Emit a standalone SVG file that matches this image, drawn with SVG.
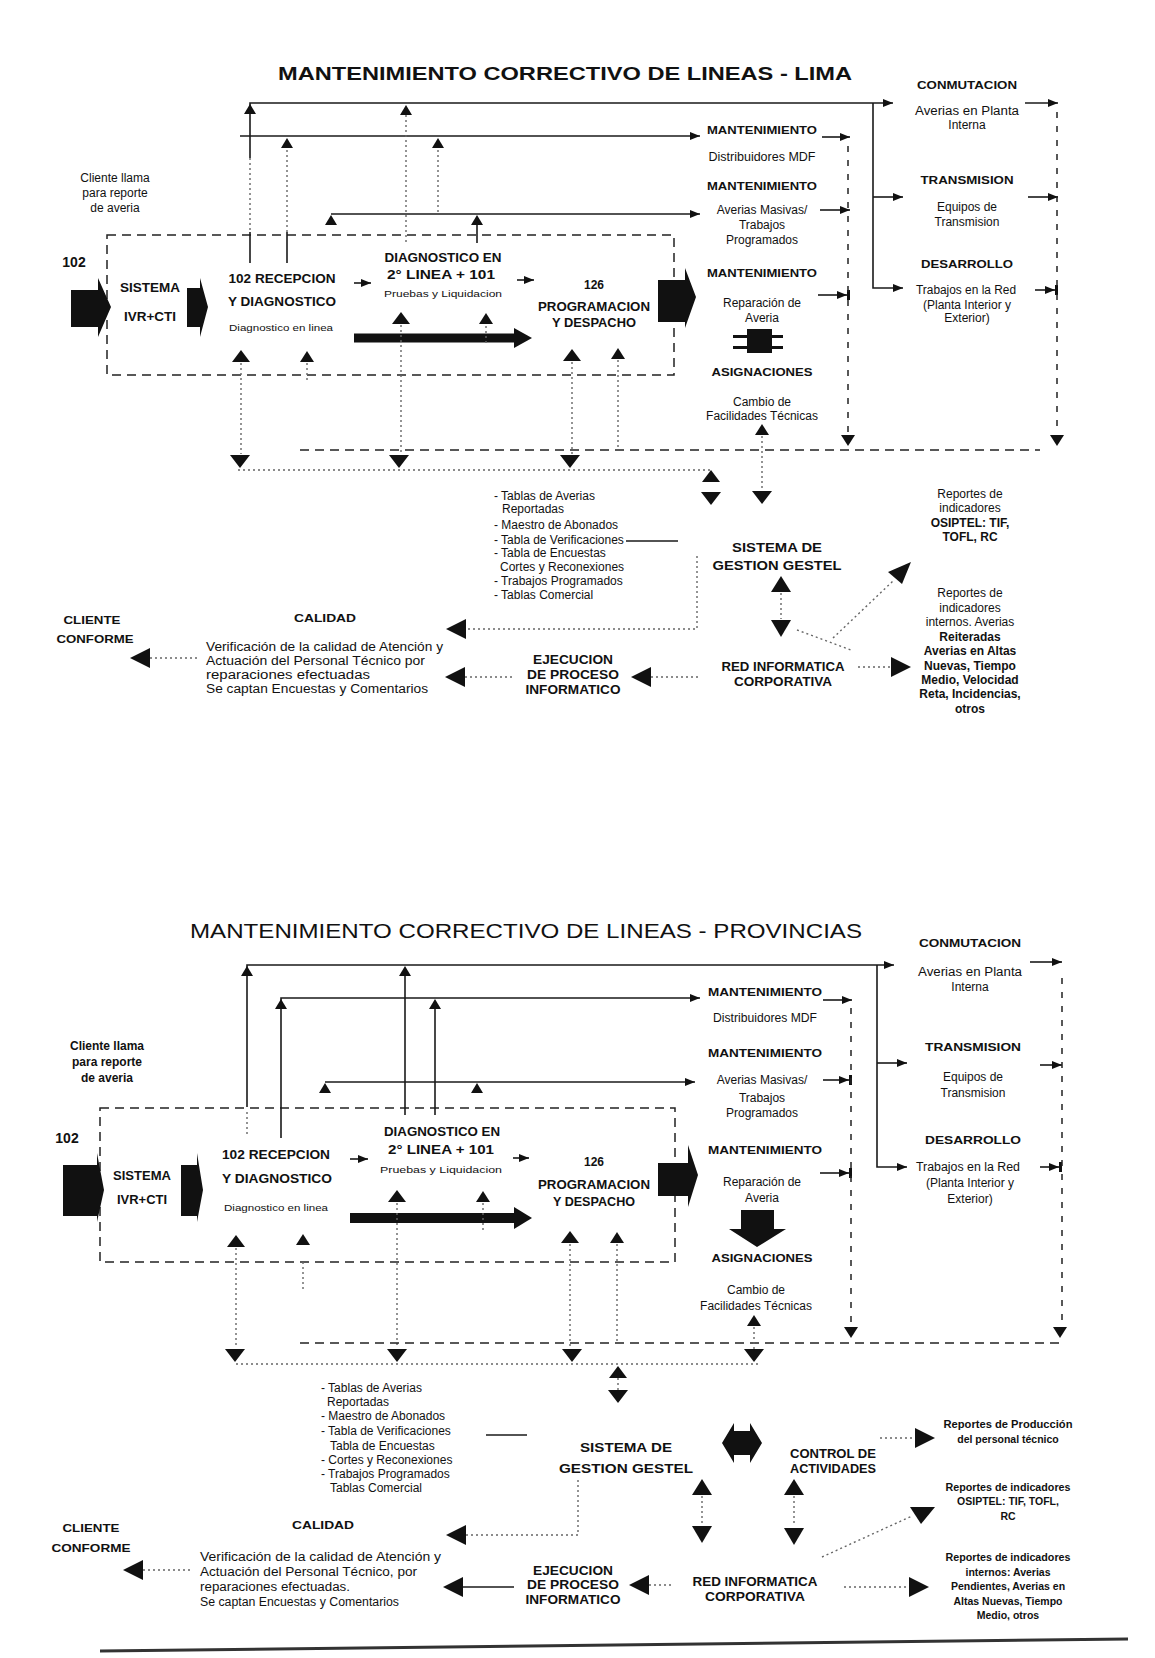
<svg xmlns="http://www.w3.org/2000/svg" width="1155" height="1658" viewBox="0 0 1155 1658">
<defs>
<style>
text{font-family:"Liberation Sans",Arial,sans-serif;fill:#111}
.h{font-weight:bold;font-size:12px}
.hm{font-weight:bold;font-size:11px}
.s{font-size:12px}
.xs{font-size:9.5px}
.r{font-size:10.5px;font-weight:bold}
.p{font-size:12px}
.c{text-anchor:middle}
.ln{stroke:#1a1a1a;stroke-width:1.6;fill:none}
.dsh{stroke:#222;stroke-width:1.5;stroke-dasharray:9 6;fill:none}
.dot{stroke:#666;stroke-width:1.4;stroke-dasharray:2 3;fill:none}
.blk{fill:#111}
</style>
<marker id="ah" viewBox="0 0 10 8" markerWidth="10" markerHeight="8" refX="10" refY="4" orient="auto" markerUnits="userSpaceOnUse"><path d="M0,0 L10,4 L0,8 Z" fill="#111"/></marker>
<marker id="ahb" viewBox="0 0 13 10" markerWidth="13" markerHeight="10" refX="13" refY="5" orient="auto" markerUnits="userSpaceOnUse"><path d="M0,1 L10,5 L0,9 Z M10,0 H13 V10 H10 Z" fill="#111"/></marker>
<path id="tU" d="M0,0 L9,12 L-9,12 Z" fill="#111"/>
<path id="tUm" d="M0,0 L7,11 L-7,11 Z" fill="#111"/>
<path id="tUs" d="M0,0 L6,10 L-6,10 Z" fill="#111"/>
<path id="tUb" d="M0,0 L10,16 L-10,16 Z" fill="#111"/>
<path id="tD" d="M0,0 L-10,-13 L10,-13 Z" fill="#111"/>
<path id="tDs" d="M0,0 L-7,-11 L7,-11 Z" fill="#111"/>
<path id="tDb" d="M0,0 L-10,-17 L10,-17 Z" fill="#111"/>
<path id="tL" d="M0,0 L20,-10 L20,10 Z" fill="#111"/>
<path id="tR" d="M0,0 L-20,-10 L-20,10 Z" fill="#111"/>
</defs>
<rect x="0" y="0" width="1155" height="1658" fill="#ffffff"/>

<!-- ===================== LIMA ===================== -->
<g id="lima-title"><text x="565" y="80" class="c" style="font-size:18px;font-weight:bold" textLength="574" lengthAdjust="spacingAndGlyphs">MANTENIMIENTO CORRECTIVO DE LINEAS - LIMA</text></g>

<g id="lima-connectors">
  <rect x="107" y="235" width="567" height="140" class="dsh"/>
  <path class="ln" d="M250,158 V103 H893" marker-end="url(#ah)"/>
  <path class="dot" d="M250,158 V232"/><path class="ln" d="M250,232 V263"/>
  <use href="#tUs" x="250" y="104"/>
  <path class="ln" d="M240,136 H700" marker-end="url(#ah)"/>
  <use href="#tUs" x="287" y="138"/><use href="#tUs" x="438" y="138"/>
  <path class="dot" d="M287,150 V232"/><path class="ln" d="M287,232 V263"/>
  <use href="#tUs" x="406" y="105"/>
  <path class="dot" d="M406,115 V242"/>
  <path class="dot" d="M438,150 V212"/>
  <path class="ln" d="M331,214 H700" marker-end="url(#ah)"/>
  <use href="#tUs" x="331" y="215"/><use href="#tUs" x="477" y="215"/>
  <path class="ln" d="M477,225 V243"/>
  <path class="blk" d="M71,290 H98 V278 L111,307 L98,337 V327 H71 Z"/>
  <path class="blk" d="M187,288 H200 V278 L208,307 L200,337 V327 H187 Z"/>
  <path class="blk" d="M658,280 H685 V268 L696,297 L685,328 V322 H658 Z"/>
  <path class="ln" d="M354,283 H371" marker-end="url(#ah)"/>
  <path class="ln" d="M517,280 H534" marker-end="url(#ah)"/>
  <path d="M354,338 H516" stroke="#111" stroke-width="9"/>
  <path class="blk" d="M514,328 L532,338 L514,348 Z"/>
  <use href="#tU" x="241" y="350"/><use href="#tUm" x="307" y="351"/>
  <use href="#tU" x="401" y="312"/><use href="#tUm" x="486" y="313"/>
  <use href="#tU" x="572" y="349"/><use href="#tUm" x="618" y="348"/>
  <path class="dot" d="M241,363 V454"/><path class="dot" d="M307,363 V382"/>
  <path class="dot" d="M401,325 V454"/><path class="dot" d="M486,326 V345"/>
  <path class="dot" d="M572,362 V454"/><path class="dot" d="M618,360 V449"/>
  <use href="#tD" x="240" y="468"/><use href="#tD" x="399" y="468"/><use href="#tD" x="570" y="468"/>
  <path class="dsh" d="M300,450 H1040"/>
  <path class="dot" d="M238,470 H711"/>
  <path class="ln" d="M822,137 H850" marker-end="url(#ah)"/>
  <path class="ln" d="M820,210 H850" marker-end="url(#ah)"/>
  <path class="ln" d="M818,295 H850" marker-end="url(#ahb)"/>
  <path class="blk" d="M747,329 H772 V335 H783 V338 H772 V346 H783 V349 H772 V353 H747 V349 H733 V346 H747 V338 H733 V335 H747 Z"/>
  <path class="ln" d="M873,103 V288 H903" marker-end="url(#ah)"/>
  <path class="ln" d="M873,197 H903" marker-end="url(#ah)"/>
  <path class="ln" d="M1025,103 H1058" marker-end="url(#ah)"/>
  <path class="ln" d="M1028,197 H1058" marker-end="url(#ah)"/>
  <path class="ln" d="M1035,290 H1058" marker-end="url(#ahb)"/>
  <path class="dsh" d="M1057,112 V434" style="stroke-dasharray:6 8"/>
  <use href="#tDs" x="1057" y="446"/>
  <path class="dsh" d="M848,146 V434" style="stroke-dasharray:6 8"/>
  <use href="#tDs" x="848" y="446"/>
  <use href="#tUm" x="762" y="424"/>
  <path class="dot" d="M762,436 V491"/>
  <use href="#tD" x="762" y="504"/>
  <use href="#tU" x="711" y="470"/>
  <use href="#tD" x="711" y="505"/>
  <path class="ln" d="M626,541 H678"/>
  <path class="dot" d="M697,556 V629 H466"/>
  <use href="#tL" x="446" y="629"/>
  <use href="#tL" x="445" y="677"/><path class="dot" d="M465,677 H514"/>
  <use href="#tL" x="631" y="677"/><path class="dot" d="M651,677 H700"/>
  <use href="#tL" x="130" y="658"/><path class="dot" d="M150,658 H200"/>
  <use href="#tUb" x="781" y="576"/>
  <path class="dot" d="M781,593 V619"/>
  <use href="#tDb" x="781" y="637"/>
  <path class="dot" d="M797,630 L851,650"/>
  <path class="dot" d="M833,638 L893,581"/>
  <path class="blk" d="M888,572 L911,562 L902,584 Z"/>
  <path class="dot" d="M858,667 H891"/>
  <use href="#tR" x="911" y="667"/>
</g>

<g id="lima-102"><text x="74" y="267" style="font-size:14px;font-weight:bold" class="c">102</text></g>
<g id="lima-cliente-llama">
  <text x="115" y="182" class="s c">Cliente llama</text>
  <text x="115" y="197" class="s c">para reporte</text>
  <text x="115" y="212" class="s c">de averia</text>
</g>
<g id="lima-ivr">
  <text x="150" y="292" class="h c" textLength="60" lengthAdjust="spacingAndGlyphs">SISTEMA</text>
  <text x="150" y="321" class="h c" textLength="52" lengthAdjust="spacingAndGlyphs">IVR+CTI</text>
</g>
<g id="lima-recepcion">
  <text x="282" y="283" class="h c" textLength="107" lengthAdjust="spacingAndGlyphs">102 RECEPCION</text>
  <text x="282" y="306" class="h c" textLength="108" lengthAdjust="spacingAndGlyphs">Y DIAGNOSTICO</text>
  <text x="281" y="331" class="xs c" textLength="104" lengthAdjust="spacingAndGlyphs">Diagnostico en linea</text>
</g>
<g id="lima-diagnostico">
  <text x="443" y="262" class="h c" textLength="117" lengthAdjust="spacingAndGlyphs">DIAGNOSTICO EN</text>
  <text x="441" y="279" class="h c" textLength="108" lengthAdjust="spacingAndGlyphs">2° LINEA  +  101</text>
  <text x="443" y="297" class="xs c" textLength="118" lengthAdjust="spacingAndGlyphs">Pruebas y Liquidacion</text>
</g>
<g id="lima-programacion">
  <text x="594" y="289" class="h c">126</text>
  <text x="594" y="311" class="h c" textLength="112" lengthAdjust="spacingAndGlyphs">PROGRAMACION</text>
  <text x="594" y="327" class="h c" textLength="84" lengthAdjust="spacingAndGlyphs">Y DESPACHO</text>
</g>
<g id="lima-mant-mdf">
  <text x="762" y="134" class="hm c" textLength="110" lengthAdjust="spacingAndGlyphs">MANTENIMIENTO</text>
  <text x="762" y="161" class="s c" textLength="107" lengthAdjust="spacingAndGlyphs">Distribuidores MDF</text>
</g>
<g id="lima-mant-masivas">
  <text x="762" y="190" class="hm c" textLength="110" lengthAdjust="spacingAndGlyphs">MANTENIMIENTO</text>
  <text x="762" y="214" class="s c">Averias Masivas/</text>
  <text x="762" y="229" class="s c">Trabajos</text>
  <text x="762" y="244" class="s c">Programados</text>
</g>
<g id="lima-mant-reparacion">
  <text x="762" y="277" class="hm c" textLength="110" lengthAdjust="spacingAndGlyphs">MANTENIMIENTO</text>
  <text x="762" y="307" class="s c">Reparación de</text>
  <text x="762" y="322" class="s c">Averia</text>
</g>
<g id="lima-asignaciones">
  <text x="762" y="376" class="hm c" textLength="101" lengthAdjust="spacingAndGlyphs">ASIGNACIONES</text>
  <text x="762" y="406" class="s c">Cambio de</text>
  <text x="762" y="420" class="s c">Facilidades Técnicas</text>
</g>
<g id="lima-conmutacion">
  <text x="967" y="89" class="hm c" textLength="100" lengthAdjust="spacingAndGlyphs">CONMUTACION</text>
  <text x="967" y="115" class="s c" textLength="104" lengthAdjust="spacingAndGlyphs">Averias en Planta</text>
  <text x="967" y="129" class="s c">Interna</text>
</g>
<g id="lima-transmision">
  <text x="967" y="184" class="hm c" textLength="93" lengthAdjust="spacingAndGlyphs">TRANSMISION</text>
  <text x="967" y="211" class="s c">Equipos de</text>
  <text x="967" y="226" class="s c">Transmision</text>
</g>
<g id="lima-desarrollo">
  <text x="967" y="268" class="hm c" textLength="92" lengthAdjust="spacingAndGlyphs">DESARROLLO</text>
  <text x="966" y="294" class="s c" textLength="100" lengthAdjust="spacingAndGlyphs">Trabajos en la Red</text>
  <text x="967" y="309" class="s c">(Planta Interior y</text>
  <text x="967" y="322" class="s c">Exterior)</text>
</g>
<g id="lima-tablas">
  <text x="494" y="500" class="s">- Tablas de Averias</text>
  <text x="502" y="513" class="s">Reportadas</text>
  <text x="494" y="529" class="s">- Maestro de Abonados</text>
  <text x="494" y="544" class="s">- Tabla de Verificaciones</text>
  <text x="494" y="557" class="s">- Tabla de Encuestas</text>
  <text x="500" y="571" class="s">Cortes y Reconexiones</text>
  <text x="494" y="585" class="s">- Trabajos Programados</text>
  <text x="494" y="599" class="s">- Tablas Comercial</text>
</g>
<g id="lima-gestel">
  <text x="777" y="552" class="c" style="font-size:13.5px;font-weight:bold" textLength="90" lengthAdjust="spacingAndGlyphs">SISTEMA DE</text>
  <text x="777" y="570" class="c" style="font-size:13.5px;font-weight:bold" textLength="129" lengthAdjust="spacingAndGlyphs">GESTION GESTEL</text>
</g>
<g id="lima-red">
  <text x="783" y="671" class="h c" textLength="123" lengthAdjust="spacingAndGlyphs">RED INFORMATICA</text>
  <text x="783" y="686" class="h c" textLength="98" lengthAdjust="spacingAndGlyphs">CORPORATIVA</text>
</g>
<g id="lima-ejecucion">
  <text x="573" y="664" class="h c" textLength="80" lengthAdjust="spacingAndGlyphs">EJECUCION</text>
  <text x="573" y="679" class="h c" textLength="92" lengthAdjust="spacingAndGlyphs">DE PROCESO</text>
  <text x="573" y="694" class="h c" textLength="95" lengthAdjust="spacingAndGlyphs">INFORMATICO</text>
</g>
<g id="lima-calidad">
  <text x="325" y="622" class="hm c" textLength="62" lengthAdjust="spacingAndGlyphs">CALIDAD</text>
  <text x="206" y="651" class="p" textLength="237" lengthAdjust="spacingAndGlyphs">Verificación de la calidad de Atención y</text>
  <text x="206" y="665" class="p" textLength="219" lengthAdjust="spacingAndGlyphs">Actuación del Personal Técnico por</text>
  <text x="206" y="679" class="p" textLength="164" lengthAdjust="spacingAndGlyphs">reparaciones efectuadas</text>
  <text x="206" y="693" class="p" textLength="222" lengthAdjust="spacingAndGlyphs">Se captan Encuestas y Comentarios</text>
</g>
<g id="lima-cliente">
  <text x="92" y="624" class="hm c" textLength="57" lengthAdjust="spacingAndGlyphs">CLIENTE</text>
  <text x="95" y="643" class="hm c" textLength="77" lengthAdjust="spacingAndGlyphs">CONFORME</text>
</g>
<g id="lima-rep-osiptel">
  <text x="970" y="498" class="s c">Reportes de</text>
  <text x="970" y="512" class="s c">indicadores</text>
  <text x="970" y="527" class="s c" style="font-weight:bold">OSIPTEL: TIF,</text>
  <text x="970" y="541" class="s c" style="font-weight:bold">TOFL, RC</text>
</g>
<g id="lima-rep-internos">
  <text x="970" y="597" class="s c">Reportes de</text>
  <text x="970" y="612" class="s c">indicadores</text>
  <text x="970" y="626" class="s c">internos. Averias</text>
  <text x="970" y="641" class="s c" style="font-weight:bold">Reiteradas</text>
  <text x="970" y="655" class="s c" style="font-weight:bold">Averias en Altas</text>
  <text x="970" y="670" class="s c" style="font-weight:bold">Nuevas, Tiempo</text>
  <text x="970" y="684" class="s c" style="font-weight:bold">Medio, Velocidad</text>
  <text x="970" y="698" class="s c" style="font-weight:bold">Reta, Incidencias,</text>
  <text x="970" y="713" class="s c" style="font-weight:bold">otros</text>
</g>

<!-- ===================== PROVINCIAS ===================== -->
<g id="prov-title"><text x="526" y="938" class="c" style="font-size:21px" textLength="672" lengthAdjust="spacingAndGlyphs">MANTENIMIENTO CORRECTIVO DE LINEAS - PROVINCIAS</text></g>

<g id="prov-connectors">
  <rect x="100" y="1108" width="575" height="154" class="dsh"/>
  <path class="ln" d="M247,1107 V965 H894" marker-end="url(#ah)"/>
  <use href="#tUs" x="247" y="966"/>
  <path class="dot" d="M247,1112 V1137"/>
  <use href="#tUs" x="405" y="966"/>
  <path class="ln" d="M405,976 V1115"/>
  <path class="ln" d="M281,1138 V998 H700" marker-end="url(#ah)"/>
  <use href="#tUs" x="281" y="999"/><use href="#tUs" x="435" y="999"/>
  <path class="ln" d="M435,1009 V1115"/>
  <path class="ln" d="M325,1082 H695" marker-end="url(#ah)"/>
  <use href="#tUs" x="325" y="1083"/><use href="#tUs" x="477" y="1083"/>
  <path class="blk" d="M63,1165 H97 V1153 L104,1190 L97,1222 V1216 H63 Z"/>
  <path class="blk" d="M181,1165 H197 V1153 L203,1190 L197,1222 V1216 H181 Z"/>
  <path class="blk" d="M658,1163 H688 V1145 L698,1175 L688,1207 V1196 H658 Z"/>
  <path class="ln" d="M350,1159 H368" marker-end="url(#ah)"/>
  <path class="ln" d="M513,1158 H529" marker-end="url(#ah)"/>
  <path d="M350,1218 H516" stroke="#111" stroke-width="10"/>
  <path class="blk" d="M514,1207 L532,1218 L514,1229 Z"/>
  <use href="#tU" x="236" y="1235"/><use href="#tUm" x="303" y="1234"/>
  <use href="#tU" x="397" y="1190"/><use href="#tUm" x="483" y="1191"/>
  <use href="#tU" x="570" y="1231"/><use href="#tUm" x="617" y="1232"/>
  <path class="dot" d="M236,1248 V1348"/><path class="dot" d="M303,1262 V1290"/>
  <path class="dot" d="M397,1203 V1348"/><path class="dot" d="M483,1203 V1230"/>
  <path class="dot" d="M570,1244 V1348"/><path class="dot" d="M617,1244 V1342"/>
  <use href="#tD" x="235" y="1362"/><use href="#tD" x="397" y="1362"/>
  <use href="#tD" x="572" y="1362"/><use href="#tD" x="754" y="1362"/>
  <path class="dsh" d="M300,1343 H1060"/>
  <path class="dot" d="M236,1364 H760"/>
  <path class="ln" d="M823,1000 H852" marker-end="url(#ah)"/>
  <path class="ln" d="M823,1080 H852" marker-end="url(#ahb)"/>
  <path class="ln" d="M820,1173 H852" marker-end="url(#ahb)"/>
  <path class="blk" d="M741,1210 H774 V1229 H786 L757,1247 L729,1229 H741 Z"/>
  <path class="ln" d="M877,965 V1167 H907" marker-end="url(#ah)"/>
  <path class="ln" d="M877,1063 H907" marker-end="url(#ah)"/>
  <path class="ln" d="M1030,962 H1062" marker-end="url(#ah)"/>
  <path class="ln" d="M1040,1065 H1062" marker-end="url(#ah)"/>
  <path class="ln" d="M1040,1167 H1062" marker-end="url(#ahb)"/>
  <path class="dsh" d="M1062,978 V1326" style="stroke-dasharray:6 8"/>
  <use href="#tDs" x="1060" y="1338"/>
  <path class="dsh" d="M851,1008 V1326" style="stroke-dasharray:6 8"/>
  <use href="#tDs" x="851" y="1338"/>
  <use href="#tUm" x="754" y="1315"/>
  <path class="dot" d="M754,1327 V1349"/>
  <use href="#tU" x="618" y="1366"/>
  <path class="dot" d="M618,1378 V1390"/>
  <use href="#tD" x="618" y="1403"/>
  <path class="ln" d="M486,1435 H527"/>
  <path class="dot" d="M578,1480 V1535 H466"/>
  <use href="#tL" x="446" y="1535"/>
  <path class="blk" d="M722,1443 L734,1423 V1431 H750 V1423 L762,1443 L750,1463 V1455 H734 V1463 Z"/>
  <use href="#tUb" x="702" y="1479"/><use href="#tUb" x="794" y="1479"/>
  <path class="dot" d="M702,1496 V1525"/><path class="dot" d="M794,1496 V1525"/>
  <use href="#tDb" x="702" y="1543"/><use href="#tDb" x="794" y="1545"/>
  <use href="#tL" x="629" y="1585"/><path class="dot" d="M649,1585 H672"/>
  <use href="#tL" x="443" y="1587"/><path class="ln" d="M463,1587 H514"/>
  <use href="#tL" x="123" y="1570"/><path class="dot" d="M143,1570 H193"/>
  <path class="dot" d="M880,1438 H915"/><use href="#tR" x="935" y="1438"/>
  <path class="dot" d="M822,1557 L912,1516"/>
  <path class="blk" d="M910,1507 L935,1507 L921,1524 Z"/>
  <path class="dot" d="M844,1587 H909"/><use href="#tR" x="929" y="1587"/>
  <path d="M100,1651 L1128,1639" stroke="#333" stroke-width="3"/>
</g>

<g id="prov-102"><text x="67" y="1143" style="font-size:14px;font-weight:bold" class="c">102</text></g>
<g id="prov-cliente-llama">
  <text x="107" y="1050" class="s c" style="font-weight:bold">Cliente llama</text>
  <text x="107" y="1066" class="s c" style="font-weight:bold">para reporte</text>
  <text x="107" y="1082" class="s c" style="font-weight:bold">de averia</text>
</g>
<g id="prov-ivr">
  <text x="142" y="1180" class="h c" textLength="58" lengthAdjust="spacingAndGlyphs">SISTEMA</text>
  <text x="142" y="1204" class="h c" textLength="50" lengthAdjust="spacingAndGlyphs">IVR+CTI</text>
</g>
<g id="prov-recepcion">
  <text x="276" y="1159" class="h c" textLength="108" lengthAdjust="spacingAndGlyphs">102 RECEPCION</text>
  <text x="277" y="1183" class="h c" textLength="110" lengthAdjust="spacingAndGlyphs">Y DIAGNOSTICO</text>
  <text x="276" y="1211" class="xs c" textLength="104" lengthAdjust="spacingAndGlyphs">Diagnostico en linea</text>
</g>
<g id="prov-diagnostico">
  <text x="442" y="1136" class="h c" textLength="116" lengthAdjust="spacingAndGlyphs">DIAGNOSTICO EN</text>
  <text x="441" y="1154" class="h c" textLength="106" lengthAdjust="spacingAndGlyphs">2° LINEA  +  101</text>
  <text x="441" y="1173" class="xs c" textLength="122" lengthAdjust="spacingAndGlyphs">Pruebas y Liquidacion</text>
</g>
<g id="prov-programacion">
  <text x="594" y="1166" class="h c">126</text>
  <text x="594" y="1189" class="h c" textLength="112" lengthAdjust="spacingAndGlyphs">PROGRAMACION</text>
  <text x="594" y="1206" class="h c" textLength="82" lengthAdjust="spacingAndGlyphs">Y DESPACHO</text>
</g>
<g id="prov-mant-mdf">
  <text x="765" y="996" class="hm c" textLength="114" lengthAdjust="spacingAndGlyphs">MANTENIMIENTO</text>
  <text x="765" y="1022" class="s c" textLength="104" lengthAdjust="spacingAndGlyphs">Distribuidores MDF</text>
</g>
<g id="prov-mant-masivas">
  <text x="765" y="1057" class="hm c" textLength="114" lengthAdjust="spacingAndGlyphs">MANTENIMIENTO</text>
  <text x="762" y="1084" class="s c">Averias Masivas/</text>
  <text x="762" y="1102" class="s c">Trabajos</text>
  <text x="762" y="1117" class="s c">Programados</text>
</g>
<g id="prov-mant-reparacion">
  <text x="765" y="1154" class="hm c" textLength="114" lengthAdjust="spacingAndGlyphs">MANTENIMIENTO</text>
  <text x="762" y="1186" class="s c">Reparación de</text>
  <text x="762" y="1202" class="s c">Averia</text>
</g>
<g id="prov-asignaciones">
  <text x="762" y="1262" class="hm c" textLength="101" lengthAdjust="spacingAndGlyphs">ASIGNACIONES</text>
  <text x="756" y="1294" class="s c">Cambio de</text>
  <text x="756" y="1310" class="s c">Facilidades Técnicas</text>
</g>
<g id="prov-conmutacion">
  <text x="970" y="947" class="hm c" textLength="102" lengthAdjust="spacingAndGlyphs">CONMUTACION</text>
  <text x="970" y="976" class="s c" textLength="104" lengthAdjust="spacingAndGlyphs">Averias en Planta</text>
  <text x="970" y="991" class="s c">Interna</text>
</g>
<g id="prov-transmision">
  <text x="973" y="1051" class="hm c" textLength="96" lengthAdjust="spacingAndGlyphs">TRANSMISION</text>
  <text x="973" y="1081" class="s c">Equipos de</text>
  <text x="973" y="1097" class="s c">Transmision</text>
</g>
<g id="prov-desarrollo">
  <text x="973" y="1144" class="hm c" textLength="96" lengthAdjust="spacingAndGlyphs">DESARROLLO</text>
  <text x="968" y="1171" class="s c" textLength="104" lengthAdjust="spacingAndGlyphs">Trabajos en la Red</text>
  <text x="970" y="1187" class="s c">(Planta Interior y</text>
  <text x="970" y="1203" class="s c">Exterior)</text>
</g>
<g id="prov-tablas">
  <text x="321" y="1392" class="s">- Tablas de Averias</text>
  <text x="327" y="1406" class="s">Reportadas</text>
  <text x="321" y="1420" class="s">- Maestro de Abonados</text>
  <text x="321" y="1435" class="s">- Tabla de Verificaciones</text>
  <text x="330" y="1450" class="s">Tabla de Encuestas</text>
  <text x="321" y="1464" class="s">- Cortes y Reconexiones</text>
  <text x="321" y="1478" class="s">- Trabajos Programados</text>
  <text x="330" y="1492" class="s">Tablas Comercial</text>
</g>
<g id="prov-gestel">
  <text x="626" y="1452" class="c" style="font-size:13.5px;font-weight:bold" textLength="92" lengthAdjust="spacingAndGlyphs">SISTEMA DE</text>
  <text x="626" y="1473" class="c" style="font-size:13.5px;font-weight:bold" textLength="134" lengthAdjust="spacingAndGlyphs">GESTION GESTEL</text>
</g>
<g id="prov-control">
  <text x="833" y="1458" class="h c" textLength="86" lengthAdjust="spacingAndGlyphs">CONTROL DE</text>
  <text x="833" y="1473" class="h c" textLength="86" lengthAdjust="spacingAndGlyphs">ACTIVIDADES</text>
</g>
<g id="prov-red">
  <text x="755" y="1586" class="h c" textLength="125" lengthAdjust="spacingAndGlyphs">RED INFORMATICA</text>
  <text x="755" y="1601" class="h c" textLength="100" lengthAdjust="spacingAndGlyphs">CORPORATIVA</text>
</g>
<g id="prov-ejecucion">
  <text x="573" y="1575" class="h c" textLength="80" lengthAdjust="spacingAndGlyphs">EJECUCION</text>
  <text x="573" y="1589" class="h c" textLength="92" lengthAdjust="spacingAndGlyphs">DE PROCESO</text>
  <text x="573" y="1604" class="h c" textLength="95" lengthAdjust="spacingAndGlyphs">INFORMATICO</text>
</g>
<g id="prov-calidad">
  <text x="323" y="1529" class="hm c" textLength="62" lengthAdjust="spacingAndGlyphs">CALIDAD</text>
  <text x="200" y="1561" class="p" textLength="241" lengthAdjust="spacingAndGlyphs">Verificación de la calidad de Atención y</text>
  <text x="200" y="1576" class="p" textLength="217" lengthAdjust="spacingAndGlyphs">Actuación del Personal Técnico, por</text>
  <text x="200" y="1591" class="p" textLength="150" lengthAdjust="spacingAndGlyphs">reparaciones efectuadas.</text>
  <text x="200" y="1606" class="p" textLength="199" lengthAdjust="spacingAndGlyphs">Se captan Encuestas y Comentarios</text>
</g>
<g id="prov-cliente">
  <text x="91" y="1532" class="hm c" textLength="57" lengthAdjust="spacingAndGlyphs">CLIENTE</text>
  <text x="91" y="1552" class="hm c" textLength="79" lengthAdjust="spacingAndGlyphs">CONFORME</text>
</g>
<g id="prov-rep-produccion">
  <text x="1008" y="1428" class="r c" textLength="129" lengthAdjust="spacingAndGlyphs">Reportes de Producción</text>
  <text x="1008" y="1443" class="r c">del personal técnico</text>
</g>
<g id="prov-rep-osiptel">
  <text x="1008" y="1491" class="r c" textLength="125" lengthAdjust="spacingAndGlyphs">Reportes de indicadores</text>
  <text x="1008" y="1505" class="r c">OSIPTEL: TIF, TOFL,</text>
  <text x="1008" y="1520" class="r c">RC</text>
</g>
<g id="prov-rep-internos">
  <text x="1008" y="1561" class="r c" textLength="125" lengthAdjust="spacingAndGlyphs">Reportes de indicadores</text>
  <text x="1008" y="1576" class="r c">internos: Averias</text>
  <text x="1008" y="1590" class="r c">Pendientes, Averias en</text>
  <text x="1008" y="1605" class="r c">Altas Nuevas, Tiempo</text>
  <text x="1008" y="1619" class="r c">Medio, otros</text>
</g>
</svg>
